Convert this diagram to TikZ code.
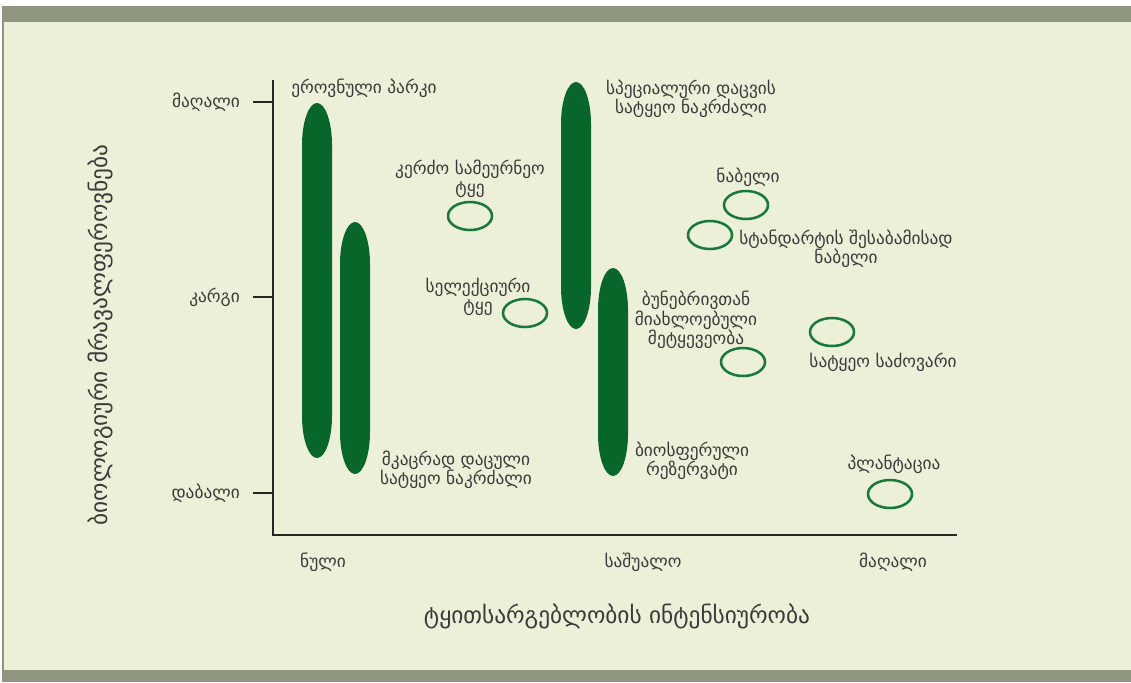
\documentclass[tikz,border=0pt]{standalone}
\usepackage{fontspec}
\setmainfont{DejaVu Sans}
\usetikzlibrary{shapes.geometric}
\definecolor{framegray}{HTML}{909580}
\definecolor{paper}{HTML}{ECF0D8}
\definecolor{forest}{HTML}{07672B}
\definecolor{ringgreen}{HTML}{17793A}
\definecolor{ink}{HTML}{3A3A3A}

\begin{document}
\begin{tikzpicture}[x=0.75pt,y=-0.75pt]
		\tikzset{lbl/.style = {text=ink, font=\fontsize{13}{14.6}\selectfont, align=center, inner sep=0pt}}
		\tikzset{title/.style = {text=ink, font=\fontsize{17.5}{19}\selectfont, inner sep=0pt}}
		\tikzset{ring/.style = {draw=ringgreen, line width=1.9pt, ellipse, minimum width=33pt, minimum height=21pt, inner sep=0pt}}
		\tikzset{axis/.style = {draw=black!85, line width=2.2pt}}
		
		% frame
		\useasboundingbox (0,0) rectangle (1131,682);
		\fill[white] (0,0) rectangle (1131,682);
		\fill[framegray] (2,6) rectangle (1131,682);
		\fill[paper] (4,22) rectangle (1131,670);
		
		% axes
		\coordinate (top) at (273,80);
		\coordinate (origin) at (273,535);
		\coordinate (right) at (957,535);
		\draw[axis] (top) -- (origin) -- (right);
		\foreach \y/\name in {102/high, 297/good, 493/low}
			\draw[axis] (253,\y) -- (273,\y) coordinate (tick-\name);
		
		% tick labels
		\node[lbl, anchor=east] (ylab-high) at (240,102) {მაღალი};
		\node[lbl, anchor=east] (ylab-good) at (240,297) {კარგი};
		\node[lbl, anchor=east] (ylab-low) at (240,493) {დაბალი};
		\node[lbl] (xlab-zero) at (323,562) {ნული};
		\node[lbl] (xlab-mid) at (643,562) {საშუალო};
		\node[lbl] (xlab-high) at (893,562) {მაღალი};
		
		% axis titles
		\node[title] (xtitle) at (617,616) {ტყითსარგებლობის ინტენსიურობა};
		\node[title, rotate=90] (ytitle) at (100,335) {ბიოლოგიური მრავალფეროვნება};
		
		% ranges
		\foreach \cx/\ty/\by in {317/103/458, 355/222/474, 576/82/329, 613/268/476}
			\fill[forest] (\cx-15,\ty+42) arc[start angle=180, end angle=0, x radius=11.25pt, y radius=31.5pt]
				-- (\cx+15,\by-42) arc[start angle=0, end angle=-180, x radius=11.25pt, y radius=31.5pt] -- cycle;
		
		% single points
		\node[ring] (private) at (470,216) {};
		\node[ring] (selective) at (525,313) {};
		\node[ring] (cut) at (746,205) {};
		\node[ring] (standard) at (710,235) {};
		\node[ring] (pasture) at (832,332) {};
		\node[ring] (nearnatural) at (743,362) {};
		\node[ring] (plantation) at (890,494) {};
		
		% labels
		\node[lbl, anchor=west] (park) at (291,88) {ეროვნული პარკი};
		\node[lbl] (private-lbl) at (470,179) {კერძო სამეურნეო\\ტყე};
		\node[lbl] (selective-lbl) at (478,297) {სელექციური\\ტყე};
		\node[lbl] (special) at (691,99) {სპეციალური დაცვის\\სატყეო ნაკრძალი};
		\node[lbl] (cut-lbl) at (748,177) {ნაბელი};
		\node[lbl] (standard-lbl) at (846,249) {სტანდარტის შესაბამისად\\ნაბელი};
		\node[lbl] (nearnatural-lbl) at (696,320) {ბუნებრივთან\\მიახლოებული\\მეტყევეობა};
		\node[lbl] (pasture-lbl) at (883,362) {სატყეო საძოვარი};
		\node[lbl] (strict) at (456,470) {მკაცრად დაცული\\სატყეო ნაკრძალი};
		\node[lbl] (biosphere) at (692,461) {ბიოსფერული\\რეზერვატი};
		\node[lbl] (plantation-lbl) at (894,464) {პლანტაცია};
\end{tikzpicture}
\end{document}
